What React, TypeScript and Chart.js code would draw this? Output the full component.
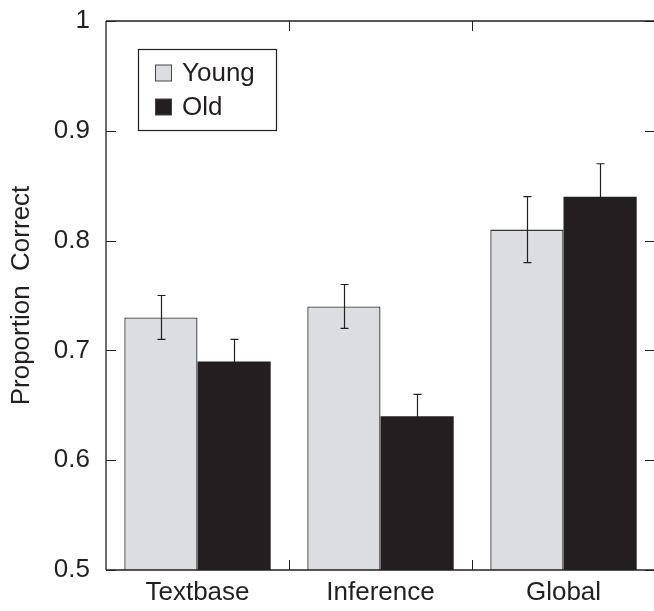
import React, { useEffect, useRef } from "react";
import { Chart, registerables } from "chart.js";

Chart.register(...registerables);

const categories = ["Textbase", "Inference", "Global"];
const youngValues = [0.73, 0.74, 0.81];
const youngErrors = [0.02, 0.02, 0.03];
const oldValues = [0.69, 0.64, 0.84];
const oldErrors = [0.02, 0.02, 0.03];
const yTickValues = [0.5, 0.6, 0.7, 0.8, 0.9, 1];
const seriesLabels = ["Young", "Old"];

const FONT = "'Liberation Sans', Arial, Helvetica, sans-serif";
const YOUNG_FILL = "#dcdde0";
const OLD_FILL = "#231f20";
const INK = "#231f20";

const errorBarPlugin = {
  id: "errorBars",
  afterDatasetsDraw(chart: any) {
    const ctx = chart.ctx;
    const y = chart.scales.y;
    ctx.save();
    ctx.strokeStyle = INK;
    ctx.lineWidth = 1.2;
    chart.data.datasets.forEach((ds: any, i: number) => {
      const meta = chart.getDatasetMeta(i);
      meta.data.forEach((el: any, j: number) => {
        const v = ds.data[j];
        const e = ds.errors[j];
        const x = Math.round(el.x) + 0.5;
        const yt = y.getPixelForValue(v + e);
        const yb = y.getPixelForValue(v - e);
        ctx.beginPath();
        ctx.moveTo(x, yt);
        ctx.lineTo(x, yb);
        ctx.moveTo(x - 4, yt);
        ctx.lineTo(x + 4, yt);
        ctx.moveTo(x - 4, yb);
        ctx.lineTo(x + 4, yb);
        ctx.stroke();
      });
    });
    ctx.restore();
  },
};

const framePlugin = {
  id: "frame",
  afterDraw(chart: any) {
    const ctx = chart.ctx;
    const { left, right, top, bottom } = chart.chartArea;
    const y = chart.scales.y;
    const x = chart.scales.x;
    ctx.save();
    ctx.strokeStyle = INK;
    ctx.lineWidth = 1.3;
    ctx.beginPath();
    ctx.moveTo(left, top);
    ctx.lineTo(right, top);
    ctx.moveTo(left, top);
    ctx.lineTo(left, bottom);
    ctx.moveTo(left, bottom);
    ctx.lineTo(right, bottom);
    ctx.moveTo(right, top);
    ctx.lineTo(right, bottom);
    ctx.stroke();
    ctx.lineWidth = 1;
    ctx.beginPath();
    yTickValues.forEach((v) => {
      const py = Math.round(y.getPixelForValue(v)) + 0.5;
      ctx.moveTo(left, py);
      ctx.lineTo(left + 10, py);
      ctx.moveTo(right - 10, py);
      ctx.lineTo(right, py);
    });
    for (let i = 0; i < categories.length - 1; i++) {
      const px = Math.round((x.getPixelForValue(i) + x.getPixelForValue(i + 1)) / 2) + 0.5;
      ctx.moveTo(px, top);
      ctx.lineTo(px, top + 10);
      ctx.moveTo(px, bottom);
      ctx.lineTo(px, bottom - 10);
    }
    ctx.stroke();

    // legend
    const bx = 138.5, by = 49.5, bw = 138, bh = 81;
    ctx.fillStyle = "#ffffff";
    ctx.fillRect(bx, by, bw, bh);
    ctx.strokeStyle = INK;
    ctx.lineWidth = 1.2;
    ctx.strokeRect(bx, by, bw, bh);
    const fills = [YOUNG_FILL, OLD_FILL];
    const rowsY = [73, 107];
    ctx.font = `26px ${FONT}`;
    ctx.textBaseline = "middle";
    ctx.textAlign = "left";
    seriesLabels.forEach((lab, i) => {
      ctx.fillStyle = fills[i];
      ctx.fillRect(155.5, rowsY[i] - 8, 16, 16);
      ctx.strokeStyle = "#444";
      ctx.lineWidth = 1;
      ctx.strokeRect(155.5, rowsY[i] - 8, 16, 16);
      ctx.fillStyle = INK;
      ctx.fillText(lab, 182, rowsY[i] + 1);
    });
    ctx.restore();
  },
};

export default function App() {
  const ref = useRef<HTMLCanvasElement | null>(null);
  useEffect(() => {
    if (!ref.current) return;
    const chart = new Chart(ref.current, {
      type: "bar",
      data: {
        labels: categories,
        datasets: [
          {
            label: seriesLabels[0],
            data: youngValues,
            errors: youngErrors,
            backgroundColor: YOUNG_FILL,
            borderColor: "#333333",
            borderWidth: { top: 1.3, left: 1.3, right: 1.3, bottom: 0 },
            categoryPercentage: 0.8,
            barPercentage: 1,
          } as any,
          {
            label: seriesLabels[1],
            data: oldValues,
            errors: oldErrors,
            backgroundColor: OLD_FILL,
            borderColor: OLD_FILL,
            borderWidth: 0,
            categoryPercentage: 0.8,
            barPercentage: 1,
          } as any,
        ],
      },
      options: {
        animation: false,
        responsive: false,
        maintainAspectRatio: false,
        layout: { padding: { top: 21, right: 5, left: 0, bottom: 0 } },
        plugins: { legend: { display: false }, tooltip: { enabled: false } },
        scales: {
          x: {
            grid: { display: false, drawTicks: false },
            border: { display: false },
            ticks: { font: { family: FONT, size: 26 }, color: INK, padding: 7 },
            afterFit: (s: any) => {
              s.height = 41;
              s.paddingLeft = 0;
              s.paddingRight = 0;
            },
          },
          y: {
            min: 0.5,
            max: 1,
            grid: { display: false, drawTicks: false },
            border: { display: false },
            afterBuildTicks: (s: any) => {
              s.ticks = yTickValues.map((v) => ({ value: v }));
            },
            ticks: {
              font: { family: FONT, size: 26 },
              color: INK,
              padding: 16,
              callback: (v: any) => String(Number(Number(v).toFixed(1))),
            },
            title: {
              display: true,
              text: "Proportion  Correct",
              font: { family: FONT, size: 26 },
              color: INK,
              padding: { top: 6, bottom: 0 },
            },
            afterFit: (s: any) => {
              s.width = 106;
              s.paddingTop = 0;
              s.paddingBottom = 0;
            },
          },
        },
      },
      plugins: [errorBarPlugin, framePlugin],
    });
    return () => chart.destroy();
  }, []);
  return (
    <div style={{ position: "fixed", left: 0, top: 0, width: 654, height: 611, overflow: "hidden", background: "#fff" }}>
      <canvas ref={ref} width={660} height={611} style={{ display: "block", width: 660, height: 611 }} />
    </div>
  );
}
